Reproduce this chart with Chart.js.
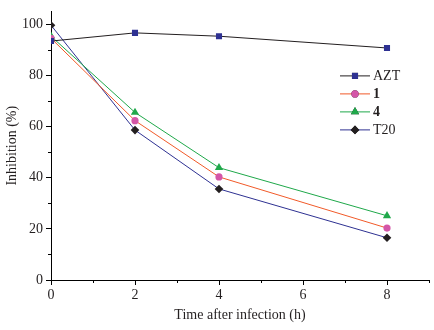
<!DOCTYPE html>
<html>
<head>
<meta charset="utf-8">
<script src="https://cdn.jsdelivr.net/npm/chart.js@4/dist/chart.umd.min.js"></script>
<style>
  html, body { margin: 0; padding: 0; background: #fff; }
  #wrap { width: 434px; height: 330px; position: relative; }
</style>
</head>
<body>
<div id="wrap"><canvas id="inhibitionChart"></canvas></div>
<script>
// data
const times = [0, 2, 4, 8];
const aztValues = [93.4, 96.6, 95.3, 90.7];
const cmpd1Values = [94.5, 62.3, 40.3, 20.3];
const cmpd4Values = [95.3, 65.5, 43.9, 25.1];
const t20Values = [99.6, 58.6, 35.6, 16.5];

const xTickValues = [0, 2, 4, 6, 8];
const xMinorValues = [1, 3, 5, 7, 9];
const yTickValues = [0, 20, 40, 60, 80, 100];
const yMinorValues = [10, 30, 50, 70, 90];

const serif = "'Liberation Serif', 'Times New Roman', serif";

function toPoints(vals) {
    return times.map((t, i) => ({ x: t, y: vals[i] }));
}

// short outward ticks at the odd values
const minorTicks = {
    id: "minorTicks",
    afterDraw(chart) {
        const c = chart.ctx;
        const xs = chart.scales.x, ys = chart.scales.y;
        c.save();
        c.strokeStyle = "#000";
        c.lineWidth = 1;
        c.beginPath();
        xMinorValues.forEach(v => {
            const px = Math.round(xs.getPixelForValue(v)) + 0.5;
            c.moveTo(px, xs.top);
            c.lineTo(px, xs.top + 3);
        });
        yMinorValues.forEach(v => {
            const py = Math.round(ys.getPixelForValue(v)) + 0.5;
            c.moveTo(ys.right, py);
            c.lineTo(ys.right - 3, py);
        });
        c.stroke();
        c.restore();
    }
};

// legend box inside the plot, upper right
const insideLegend = {
    id: "insideLegend",
    afterDraw(chart) {
        const c = chart.ctx;
        const area = chart.chartArea;
        const x0 = area.right - 89;
        let y = area.top + 64;
        c.save();
        chart.data.datasets.forEach(ds => {
            c.strokeStyle = ds.borderColor;
            c.lineWidth = 1;
            c.beginPath();
            c.moveTo(x0, y + 0.5);
            c.lineTo(x0 + 30, y + 0.5);
            c.stroke();
            Chart.helpers.drawPoint(c, {
                pointStyle: ds.pointStyle,
                radius: ds.pointRadius,
                borderWidth: 0
            }, x0 + 15, y + 0.5);
            c.fillStyle = ds.pointBackgroundColor;
            c.fill();
            c.fillStyle = "#231f20";
            c.font = (ds.boldLabel ? "bold " : "") + "14px " + serif;
            c.textBaseline = "middle";
            c.textAlign = "left";
            c.fillText(ds.label, x0 + 33, y + 1);
            y += 18;
        });
        c.restore();
    }
};

const ctx = document.getElementById("inhibitionChart").getContext("2d");

new Chart(ctx, {
    type: "line",
    data: {
        datasets: [
            {
                label: "AZT",
                data: toPoints(aztValues),
                borderColor: "#231f20",
                pointBackgroundColor: "#2e3192",
                pointStyle: "rect",
                pointRadius: 4.3
            },
            {
                label: "1",
                boldLabel: true,
                data: toPoints(cmpd1Values),
                borderColor: "#f15a29",
                pointBackgroundColor: "#d456a8",
                pointStyle: "circle",
                pointRadius: 3.6
            },
            {
                label: "4",
                boldLabel: true,
                data: toPoints(cmpd4Values),
                borderColor: "#1fa84a",
                pointBackgroundColor: "#1fa84a",
                pointStyle: "triangle",
                pointRadius: 4.8
            },
            {
                label: "T20",
                data: toPoints(t20Values),
                borderColor: "#2e3192",
                pointBackgroundColor: "#231f20",
                pointStyle: "rectRot",
                pointRadius: 4.3
            }
        ]
    },
    options: {
        responsive: true,
        maintainAspectRatio: false,
        animation: false,
        datasets: {
            line: {
                borderWidth: 1,
                pointBorderWidth: 0,
                tension: 0,
                clip: 0   // markers at x = 0 are cut by the axis, as in the original
            }
        },
        layout: { padding: { top: 6, right: 5, left: 0, bottom: 0 } },
        plugins: {
            legend: { display: false },
            tooltip: { enabled: false }
        },
        scales: {
            x: {
                type: "linear",
                min: 0,
                max: 9,
                afterBuildTicks: s => { s.ticks = xTickValues.map(v => ({ value: v })); },
                afterFit: s => { s.height = 50; },
                grid: { drawOnChartArea: false, tickLength: 5, tickColor: "#000" },
                border: { color: "#000", width: 1 },
                ticks: {
                    color: "#231f20",
                    font: { family: serif, size: 14 },
                    padding: 2,
                    maxRotation: 0
                },
                title: {
                    display: true,
                    text: "Time after infection (h)",
                    color: "#231f20",
                    font: { family: serif, size: 14 },
                    padding: { top: 0, bottom: 6 }
                }
            },
            y: {
                min: 0,
                max: 105,
                afterBuildTicks: s => { s.ticks = yTickValues.map(v => ({ value: v })); },
                afterFit: s => { s.width = 51; },
                grid: { drawOnChartArea: false, tickLength: 5, tickColor: "#000" },
                border: { color: "#000", width: 1 },
                ticks: {
                    color: "#231f20",
                    font: { family: serif, size: 14 },
                    padding: 3
                },
                title: {
                    display: true,
                    text: "Inhibition (%)",
                    color: "#231f20",
                    font: { family: serif, size: 14 },
                    padding: { top: 4, bottom: 0 }
                }
            }
        }
    },
    plugins: [minorTicks, insideLegend]
});
</script>
</body>
</html>
